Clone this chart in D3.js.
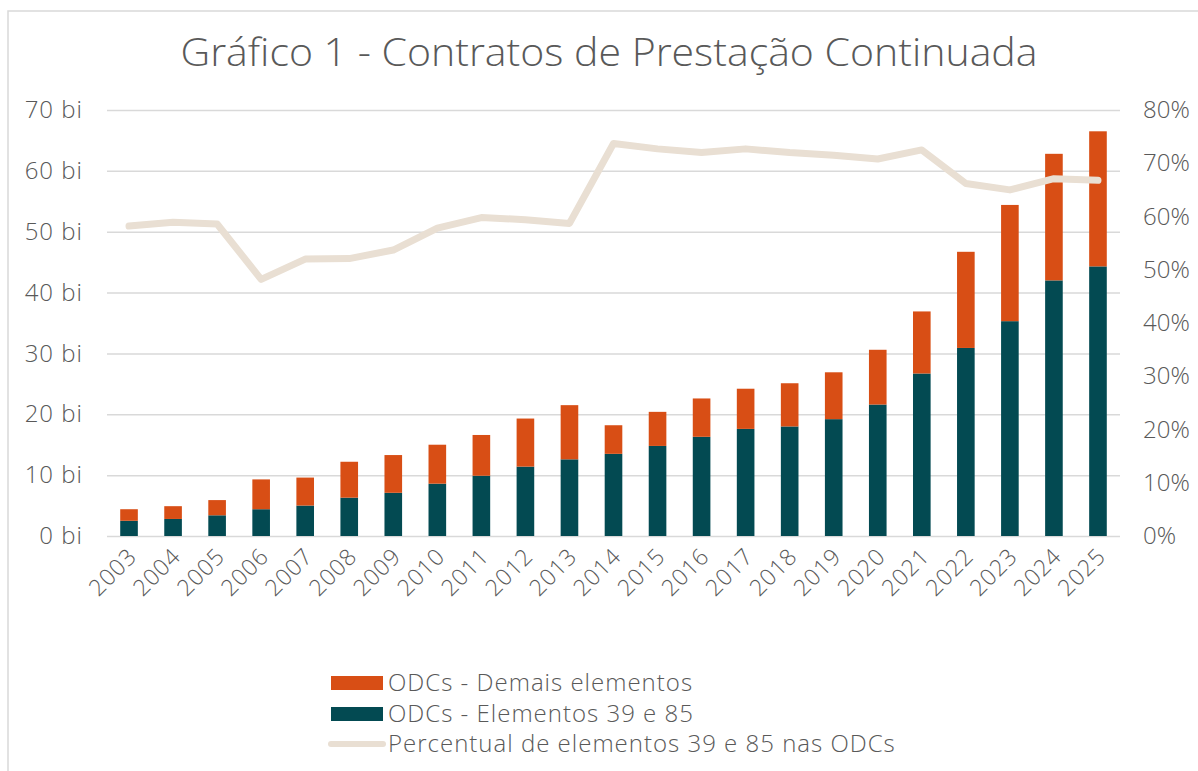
<!DOCTYPE html>
<html>
<head>
<meta charset="utf-8">
<script src="https://cdn.jsdelivr.net/npm/d3@7"></script>
<style>
  body { margin: 0; background: #fff; }
  svg { display: block; font-family: "Open Sans", sans-serif; font-weight: 300; }
</style>
</head>
<body>
<svg id="chart" width="1198" height="771"></svg>
<script>
// Data
const years = ["2003","2004","2005","2006","2007","2008","2009","2010","2011","2012","2013","2014",
               "2015","2016","2017","2018","2019","2020","2021","2022","2023","2024","2025"];
// bi R$
const elementos3985 = [2.5, 2.8, 3.4, 4.4, 5.0, 6.3, 7.1, 8.6, 9.9, 11.4, 12.6, 13.5,
                       14.8, 16.3, 17.6, 18.0, 19.2, 21.6, 26.7, 30.9, 35.3, 42.0, 44.3];
const demais = [1.9, 2.1, 2.5, 4.9, 4.6, 5.9, 6.2, 6.4, 6.7, 7.9, 8.9, 4.7,
                5.6, 6.3, 6.6, 7.1, 7.7, 9.0, 10.2, 15.8, 19.1, 20.8, 22.2];
// % of elementos 39 e 85
const percentual = [58.2, 58.9, 58.6, 48.2, 52.0, 52.1, 53.7, 57.8, 59.8, 59.4, 58.7, 73.7,
                    72.7, 72.0, 72.7, 72.0, 71.5, 70.8, 72.5, 66.2, 65.0, 67.1, 66.8];
const leftTicks = [0, 10, 20, 30, 40, 50, 60, 70];
const rightTicks = [0, 10, 20, 30, 40, 50, 60, 70, 80];
const legendLabels = ["ODCs - Demais elementos", "ODCs - Elementos 39 e 85", "Percentual de elementos 39 e 85 nas ODCs"];

const colors = { demais: "#d84e15", elem: "#034a52", line: "#e9dfd3", text: "#595959", grid: "#d9d9d9" };

const svg = d3.select("#chart");
const plotLeft = 107, plotRight = 1120, plotTop = 110, plotBottom = 536;

// chart frame
svg.append("rect")
    .attr("x", 8).attr("y", 11)
    .attr("width", 1200).attr("height", 780)
    .attr("fill", "none")
    .attr("stroke", colors.grid)
    .attr("stroke-width", 1.5);

// title
svg.append("text")
    .attr("x", 609).attr("y", 66)
    .attr("text-anchor", "middle")
    .attr("font-size", 38)
    .attr("fill", colors.text)
    .attr("textLength", 857)
    .attr("lengthAdjust", "spacingAndGlyphs")
    .text("Gráfico 1 - Contratos de Prestação Continuada");

const x = d3.scaleBand().domain(years).range([plotLeft, plotRight]).paddingInner(0.6).paddingOuter(0.3);
const y = d3.scaleLinear().domain([0, 70]).range([plotBottom, plotTop]);
const y2 = d3.scaleLinear().domain([0, 80]).range([plotBottom, plotTop]);

// gridlines
svg.append("g")
    .attr("transform", `translate(${plotLeft},0)`)
    .call(d3.axisLeft(y).tickValues(leftTicks).tickSize(-(plotRight - plotLeft)).tickFormat(""))
    .call(g => g.select(".domain").remove())
    .call(g => g.selectAll("line").attr("stroke", colors.grid).attr("stroke-width", 1.5));

// left axis labels
svg.append("g")
    .attr("transform", `translate(${plotLeft - 24},0)`)
    .call(d3.axisLeft(y).tickValues(leftTicks).tickSize(0).tickFormat(d => d + " bi"))
    .call(g => g.select(".domain").remove())
    .call(g => g.selectAll("text").attr("font-size", 24).attr("fill", colors.text)
        .attr("font-family", "Open Sans").attr("letter-spacing", 1).attr("x", 0));

// right axis labels
svg.append("g")
    .attr("transform", `translate(${plotRight + 23},0)`)
    .call(d3.axisRight(y2).tickValues(rightTicks).tickSize(0).tickFormat(d => d + "%"))
    .call(g => g.select(".domain").remove())
    .call(g => g.selectAll("text").attr("font-size", 24).attr("fill", colors.text)
        .attr("font-family", "Open Sans").attr("x", 0));

// stacked bars
const rows = years.map((yr, i) => ({ year: yr, elem: elementos3985[i], demais: demais[i] }));
const stack = d3.stack().keys(["elem", "demais"])(rows);

svg.append("g").selectAll("g")
    .data(stack)
    .join("g")
    .attr("fill", d => d.key === "elem" ? colors.elem : colors.demais)
    .selectAll("rect")
    .data(d => d)
    .join("rect")
    .attr("x", d => x(d.data.year))
    .attr("width", x.bandwidth())
    .attr("y", d => y(d[1]))
    .attr("height", d => y(d[0]) - y(d[1]));

// x labels
svg.append("g")
    .attr("transform", `translate(0,${plotBottom})`)
    .call(d3.axisBottom(x).tickSize(0))
    .call(g => g.select(".domain").remove())
    .call(g => g.selectAll("text")
        .attr("font-size", 23)
        .attr("font-family", "Open Sans")
        .attr("letter-spacing", 0.8)
        .attr("fill", colors.text)
        .attr("text-anchor", "end")
        .attr("x", 0).attr("y", 0).attr("dy", 0)
        .attr("transform", "translate(9,22) rotate(-45)"));

// percent line
const line = d3.line()
    .x((d, i) => x(years[i]) + x.bandwidth() / 2)
    .y(d => y2(d));

svg.append("path")
    .datum(percentual)
    .attr("d", line)
    .attr("fill", "none")
    .attr("stroke", colors.line)
    .attr("stroke-width", 7)
    .attr("stroke-linejoin", "round")
    .attr("stroke-linecap", "round");

// legend
const legend = svg.append("g").attr("transform", "translate(331,0)");
const legendY = [683, 714, 744];
legendLabels.forEach((label, i) => {
    if (i < 2) {
        legend.append("rect")
            .attr("x", 0).attr("y", legendY[i] - 7)
            .attr("width", 52).attr("height", 14)
            .attr("fill", i === 0 ? colors.demais : colors.elem);
    } else {
        legend.append("line")
            .attr("x1", 0).attr("x2", 52)
            .attr("y1", legendY[i]).attr("y2", legendY[i])
            .attr("stroke", colors.line)
            .attr("stroke-width", 6)
            .attr("stroke-linecap", "round");
    }
    legend.append("text")
        .attr("x", 57).attr("y", legendY[i])
        .attr("dy", "0.35em")
        .attr("font-size", 24)
        .attr("letter-spacing", 1)
        .attr("fill", colors.text)
        .text(label);
});
</script>
</body>
</html>
